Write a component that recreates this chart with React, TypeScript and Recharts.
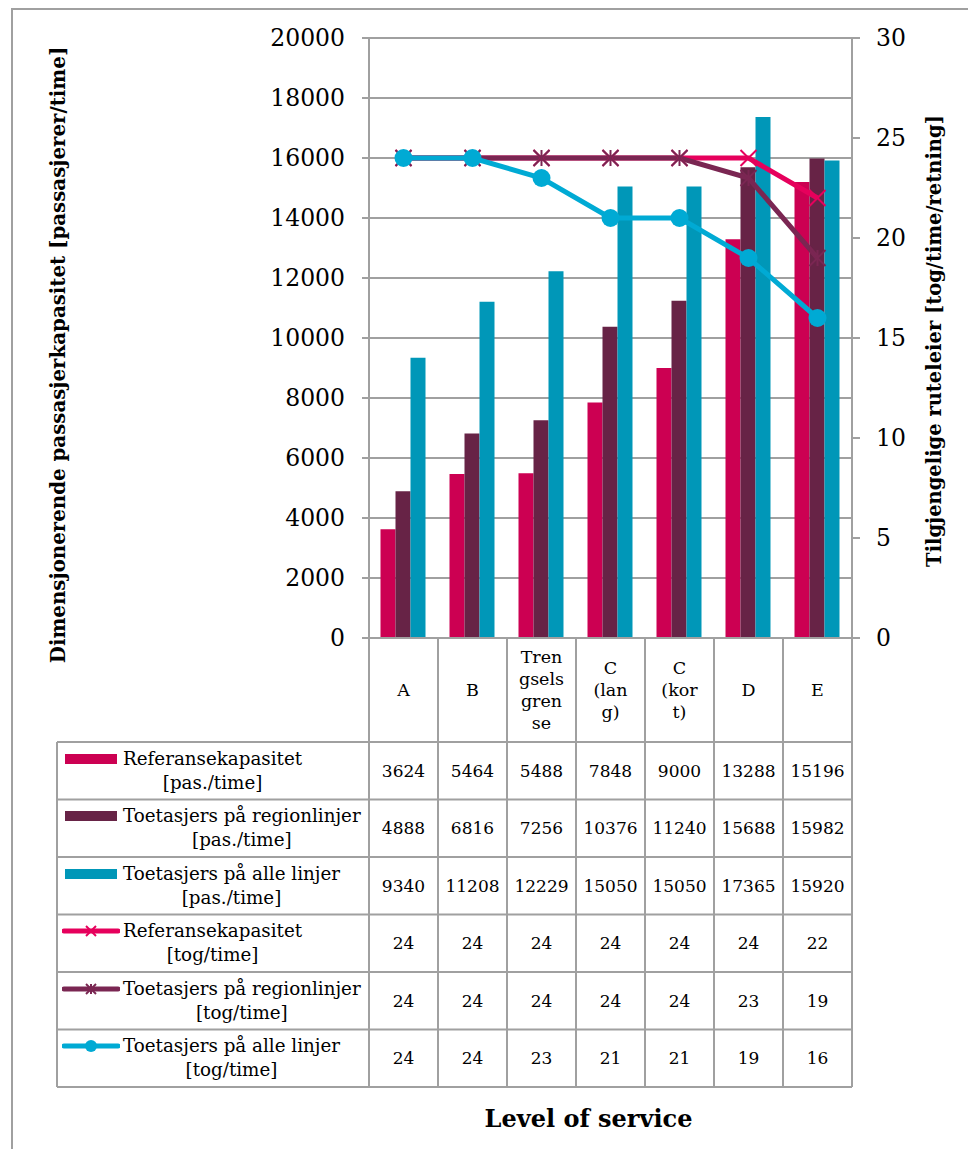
import React from 'react';
import { ComposedChart, Bar, Line, XAxis, YAxis, CartesianGrid, Legend } from 'recharts';

// ---------- data ----------
const categories = ['A', 'B', 'Trengselsgrense', 'C (lang)', 'C (kort)', 'D', 'E'];
const categoryLines = [['A'], ['B'], ['Tren', 'gsels', 'gren', 'se'], ['C', '(lan', 'g)'], ['C', '(kor', 't)'], ['D'], ['E']];
const refPas = [3624, 5464, 5488, 7848, 9000, 13288, 15196];
const regPas = [4888, 6816, 7256, 10376, 11240, 15688, 15982];
const allPas = [9340, 11208, 12229, 15050, 15050, 17365, 15920];
const refTog = [24, 24, 24, 24, 24, 24, 22];
const regTog = [24, 24, 24, 24, 24, 23, 19];
const allTog = [24, 24, 23, 21, 21, 19, 16];
const leftTicks = [0, 2000, 4000, 6000, 8000, 10000, 12000, 14000, 16000, 18000, 20000];
const rightTicks = [0, 5, 10, 15, 20, 25, 30];

const leftTitle = 'Dimensjonerende passasjerkapasitet [passasjerer/time]';
const rightTitle = 'Tilgjengelige ruteleier [tog/time/retning]';
const xTitle = 'Level of service';

type Series = { key: string; name: string; unit: string; kind: 'bar' | 'line'; color: string; marker?: 'x' | 'star' | 'circle'; values: number[] };
const series: Series[] = [
  { key: 'refPas', name: 'Referansekapasitet', unit: '[pas./time]', kind: 'bar', color: '#CC0052', values: refPas },
  { key: 'regPas', name: 'Toetasjers på regionlinjer', unit: '[pas./time]', kind: 'bar', color: '#672346', values: regPas },
  { key: 'allPas', name: 'Toetasjers på alle linjer', unit: '[pas./time]', kind: 'bar', color: '#0097B8', values: allPas },
  { key: 'refTog', name: 'Referansekapasitet', unit: '[tog/time]', kind: 'line', color: '#E6005C', marker: 'x', values: refTog },
  { key: 'regTog', name: 'Toetasjers på regionlinjer', unit: '[tog/time]', kind: 'line', color: '#7A2652', marker: 'star', values: regTog },
  { key: 'allTog', name: 'Toetasjers på alle linjer', unit: '[tog/time]', kind: 'line', color: '#00AAD4', marker: 'circle', values: allTog },
];

const data = categories.map((c, i) => {
  const row: any = { cat: c };
  series.forEach((s) => (row[s.key] = s.values[i]));
  return row;
});

// ---------- layout ----------
const W = 968;
const H = 1149;
const PLOT_LEFT = 369;
const PLOT_RIGHT = 852;
const PLOT_TOP = 38;
const PLOT_BOTTOM = 638;
const COL_W = (PLOT_RIGHT - PLOT_LEFT) / categories.length;
const HEADER_H = 104;
const ROW_H = 57.5;
const LEG_LEFT = 57;
const LINE_H = 22;
const FONT = '"DejaVu Serif", serif';
const GRID = '#a0a0a0';

const TableTick = (props: any) => {
  const { x, y, payload } = props;
  const i = categories.indexOf(payload.value);
  const half = COL_W / 2;
  const lines = categoryLines[i] || [String(payload.value)];
  const hc = y + HEADER_H / 2;
  const bottom = y + HEADER_H + ROW_H * series.length;
  const left0 = x - half;
  const right = left0 + COL_W * (categories.length - i);
  return (
    <g>
      {lines.map((t, k) => (
        <text key={'h' + k} x={x} y={hc + (k - (lines.length - 1) / 2) * LINE_H} textAnchor="middle" dominantBaseline="central" fontFamily={FONT} fontSize={17.5} fill="#000">
          {t}
        </text>
      ))}
      {series.map((s, r) => (
        <text key={'v' + r} x={x} y={y + HEADER_H + ROW_H * (r + 0.5)} textAnchor="middle" dominantBaseline="central" fontFamily={FONT} fontSize={17} fill="#000">
          {s.values[i]}
        </text>
      ))}
      <line x1={x + half} x2={x + half} y1={y} y2={bottom} stroke={GRID} strokeWidth={2} />
      {i === 0 && (
        <g>
          <line x1={left0} x2={left0} y1={y} y2={bottom} stroke={GRID} strokeWidth={2} />
          <line x1={LEG_LEFT} x2={LEG_LEFT} y1={y + HEADER_H} y2={bottom} stroke={GRID} strokeWidth={2} />
          {series.map((s, r) => (
            <line key={'r' + r} x1={LEG_LEFT} x2={right} y1={y + HEADER_H + ROW_H * r} y2={y + HEADER_H + ROW_H * r} stroke={GRID} strokeWidth={2} />
          ))}
          <line x1={LEG_LEFT} x2={right} y1={bottom} y2={bottom} stroke={GRID} strokeWidth={2} />
        </g>
      )}
    </g>
  );
};

const XMark = ({ cx, cy, color, s = 8 }: any) => (
  <g>
    <line x1={cx - s} y1={cy - s} x2={cx + s} y2={cy + s} stroke={color} strokeWidth={2} />
    <line x1={cx - s} y1={cy + s} x2={cx + s} y2={cy - s} stroke={color} strokeWidth={2} />
  </g>
);
const StarMark = ({ cx, cy, color, s = 8 }: any) => (
  <g>
    <line x1={cx - s} y1={cy - s} x2={cx + s} y2={cy + s} stroke={color} strokeWidth={2} />
    <line x1={cx - s} y1={cy + s} x2={cx + s} y2={cy - s} stroke={color} strokeWidth={2} />
    <line x1={cx} y1={cy - s} x2={cx} y2={cy + s} stroke={color} strokeWidth={2} />
  </g>
);

const makeDot = (s: Series) => (p: any) => {
  const { cx, cy, index } = p;
  if (cx == null || cy == null) return <g key={'d' + index} />;
  if (s.marker === 'x') return <XMark key={'d' + index} cx={cx} cy={cy} color={s.color} s={8} />;
  if (s.marker === 'star') return <StarMark key={'d' + index} cx={cx} cy={cy} color={s.color} s={8} />;
  return <circle key={'d' + index} cx={cx} cy={cy} r={9} fill={s.color} />;
};

const LegendMarker = ({ s }: { s: Series }) => {
  if (s.kind === 'bar') {
    return <span style={{ position: 'absolute', left: -58, top: 7, width: 52, height: 10, background: s.color }} />;
  }
  return (
    <svg width={58} height={20} style={{ position: 'absolute', left: -61, top: 2 }}>
      <line x1={2} x2={56} y1={10} y2={10} stroke={s.color} strokeWidth={5} strokeLinecap="round" />
      {s.marker === 'x' && <XMark cx={29} cy={10} color={s.color} s={5} />}
      {s.marker === 'star' && <StarMark cx={29} cy={10} color={s.color} s={5} />}
      {s.marker === 'circle' && <circle cx={29} cy={10} r={6} fill={s.color} />}
    </svg>
  );
};

const renderLegend = () => (
  <div style={{ width: PLOT_LEFT - LEG_LEFT, fontFamily: FONT, fontSize: 18.3, color: '#000' }}>
    {series.map((s) => (
      <div key={s.key} style={{ height: ROW_H, boxSizing: 'border-box', paddingTop: 4.75, paddingLeft: 123 - LEG_LEFT }}>
        <div style={{ position: 'relative', display: 'inline-block', textAlign: 'center', lineHeight: '24px', whiteSpace: 'nowrap' }}>
          <LegendMarker s={s} />
          <div>{s.name}</div>
          <div>{s.unit}</div>
        </div>
      </div>
    ))}
  </div>
);

const leftTitleLabel = (p: any) => {
  const vb = p.viewBox || {};
  const cy = vb.y + vb.height / 2 + 17;
  return (
    <text x={58} y={cy} transform={`rotate(-90, 58, ${cy})`} textAnchor="middle" dominantBaseline="central" fontFamily={FONT} fontWeight="bold" fontSize={19.8} fill="#000">
      {leftTitle}
    </text>
  );
};
const rightTitleLabel = (p: any) => {
  const vb = p.viewBox || {};
  const cx = vb.x + 82;
  const cy = vb.y + vb.height / 2 + 3;
  return (
    <text x={cx} y={cy} transform={`rotate(-90, ${cx}, ${cy})`} textAnchor="middle" dominantBaseline="central" fontFamily={FONT} fontWeight="bold" fontSize={19.5} fill="#000">
      {rightTitle}
    </text>
  );
};
const xTitleLabel = (p: any) => {
  const vb = p.viewBox || {};
  return (
    <text x={vb.x + vb.width / 2 - 22} y={vb.y + 480} textAnchor="middle" dominantBaseline="central" fontFamily={FONT} fontWeight="bold" fontSize={24} fill="#000">
      {xTitle}
    </text>
  );
};

export default function App() {
  return (
    <div style={{ position: 'absolute', left: 0, top: 0, width: W, height: H, background: '#fff' }}>
      <div style={{ position: 'absolute', left: 11, top: 8, width: W + 10, height: H + 10, border: '2px solid #a0a0a0', boxSizing: 'border-box' }} />
      <ComposedChart
        width={W}
        height={H}
        data={data}
        margin={{ top: PLOT_TOP, right: 0, bottom: 0, left: 0 }}
        barCategoryGap={11.5}
        barGap={0}
        style={{ position: 'absolute', left: 0, top: 0 }}
      >
        <CartesianGrid yAxisId="left" vertical={false} stroke={GRID} strokeWidth={2} />
        <XAxis
          dataKey="cat"
          height={H - PLOT_BOTTOM}
          interval={0}
          tickSize={0}
          tickMargin={0}
          tickLine={false}
          axisLine={{ stroke: GRID, strokeWidth: 2 }}
          tick={<TableTick />}
          label={xTitleLabel}
        />
        <YAxis
          yAxisId="left"
          width={PLOT_LEFT}
          domain={[0, 20000]}
          ticks={leftTicks}
          interval={0}
          tickSize={7}
          tickMargin={17}
          axisLine={{ stroke: GRID, strokeWidth: 2 }}
          tickLine={{ stroke: GRID, strokeWidth: 2 }}
          tick={{ fill: '#000', fontFamily: FONT, fontSize: 23.5 }}
          label={leftTitleLabel}
        />
        <YAxis
          yAxisId="right"
          orientation="right"
          width={W - PLOT_RIGHT}
          domain={[0, 30]}
          ticks={rightTicks}
          interval={0}
          tickSize={8}
          tickMargin={16}
          axisLine={{ stroke: GRID, strokeWidth: 2 }}
          tickLine={{ stroke: GRID, strokeWidth: 2 }}
          tick={{ fill: '#000', fontFamily: FONT, fontSize: 23.5 }}
          label={rightTitleLabel}
        />
        {series
          .filter((s) => s.kind === 'bar')
          .map((s) => (
            <Bar key={s.key} yAxisId="left" dataKey={s.key} name={s.name} fill={s.color} isAnimationActive={false} />
          ))}
        {series
          .filter((s) => s.kind === 'line')
          .map((s) => (
            <Line
              key={s.key}
              yAxisId="right"
              type="linear"
              dataKey={s.key}
              name={s.name}
              stroke={s.color}
              strokeWidth={5}
              dot={makeDot(s)}
              activeDot={false}
              isAnimationActive={false}
            />
          ))}
        <Legend
          content={renderLegend}
          layout="vertical"
          align="center"
          verticalAlign="middle"
          wrapperStyle={{ left: LEG_LEFT, top: PLOT_BOTTOM + HEADER_H, width: PLOT_LEFT - LEG_LEFT, height: ROW_H * 6 }}
        />
      </ComposedChart>
    </div>
  );
}
